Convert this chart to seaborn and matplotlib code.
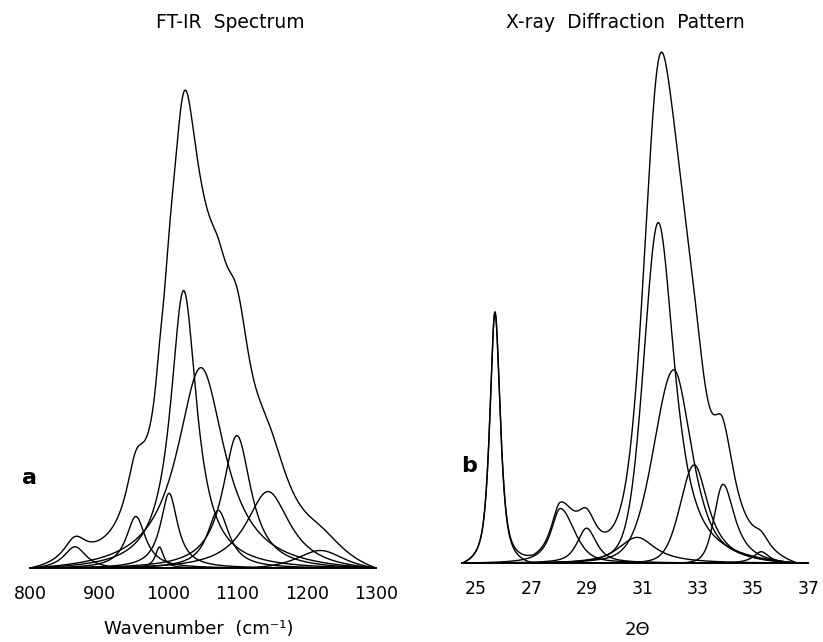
import numpy as np
import pandas as pd
import matplotlib
matplotlib.use("Agg")
import matplotlib.pyplot as plt
import seaborn as sns

# ---------------- data ----------------
# FT-IR component bands (wavenumber, cm-1): centre, height, half widths, Lorentz fraction
ir_centers = [865, 953, 987, 1001, 1022, 1047, 1072, 1099, 1144, 1220]
ir_heights = [23, 52, 21, 75, 280, 206, 58, 134, 80, 22]
ir_hw_left = [20, 17, 7, 15, 23, 42, 19, 25, 39, 45]
ir_hw_right = [20, 17, 7, 15, 23, 42, 19, 25, 39, 45]
ir_eta_left = [1.0, 1.0, 1.0, 1.0, 1.0, 1.0, 1.0, 1.0, 1.0, 1.0]
ir_eta_right = [1.0, 1.0, 1.0, 1.0, 1.0, 1.0, 1.0, 1.0, 1.0, 1.0]
ir_range = [800, 1300]
ir_ticks = [800, 900, 1000, 1100, 1200, 1300]

# XRD component reflections (2-theta, degrees)
xrd_centers = [25.68, 28.04, 28.99, 30.82, 31.58, 32.14, 32.88, 33.92, 35.30]
xrd_heights = [256, 55, 35, 26, 344, 196, 100, 81, 12]
xrd_hw_left = [0.22, 0.40, 0.40, 0.80, 0.62, 0.86, 0.60, 0.38, 0.35]
xrd_hw_right = [0.23, 0.60, 0.42, 0.80, 0.70, 0.78, 0.62, 0.52, 0.35]
xrd_eta_left = [0.75, 0.9, 0.7, 0.6, 0.3, 0.3, 0.3, 0.4, 1.0]
xrd_eta_right = [0.75, 0.5, 0.8, 1.0, 0.85, 0.7, 1.0, 1.0, 1.0]
xrd_range = [24.5, 36.6]
xrd_major = [25, 27, 29, 31, 33, 35, 37]
xrd_minor = [24.5, 26, 28, 30, 32, 34, 36]


def component(x, c, h, wl, wr, el, er, lo, hi):
    def pv(t):
        t = np.asarray(t, dtype=float)
        w = np.where(t < c, wl, wr)
        e = np.where(t < c, el, er)
        u = (t - c) / w
        g = np.exp(-np.log(2) * u ** 2)
        l = 1.0 / (1.0 + u ** 2)
        return h * (e * l + (1 - e) * g)
    y = pv(x)
    ylo, yhi = pv(lo), pv(hi)
    base = ylo + (yhi - ylo) * (x - lo) / (hi - lo)
    return np.clip(y - base, 0, None)


def build(centers, heights, wl, wr, el, er, rng, n=1400):
    x = np.linspace(rng[0], rng[1], n)
    frames = []
    total = np.zeros_like(x)
    for i, p in enumerate(zip(centers, heights, wl, wr, el, er)):
        y = component(x, *p, rng[0], rng[1])
        total += y
        frames.append(pd.DataFrame({"x": x, "y": y, "curve": f"c{i}"}))
    frames.append(pd.DataFrame({"x": x, "y": total, "curve": "sum"}))
    return pd.concat(frames, ignore_index=True)


ir_df = build(ir_centers, ir_heights, ir_hw_left, ir_hw_right,
              ir_eta_left, ir_eta_right, ir_range)
xrd_df = build(xrd_centers, xrd_heights, xrd_hw_left, xrd_hw_right,
               xrd_eta_left, xrd_eta_right, xrd_range)

# ---------------- drawing ----------------
sns.set_style("white")
plt.rcParams["font.family"] = ["DejaVu Sans"]
plt.rcParams["text.color"] = "black"
plt.rcParams["axes.labelcolor"] = "black"
plt.rcParams["xtick.color"] = "black"

W, H = 823, 642
fig = plt.figure(figsize=(W / 100, H / 100), dpi=100)
ax1 = fig.add_axes([30 / W, (H - 568) / H, 346 / W, 538 / H])
ax2 = fig.add_axes([462.3 / W, (H - 563) / H, 346 / W, 533 / H])

for ax, df in ((ax1, ir_df), (ax2, xrd_df)):
    sns.lineplot(data=df, x="x", y="y", units="curve", estimator=None,
                 color="black", linewidth=1.0, sort=False, ax=ax, legend=False)
    for s in ("top", "left", "right"):
        ax.spines[s].set_visible(False)
    ax.spines["bottom"].set_linewidth(1.4)
    ax.spines["bottom"].set_color("black")
    ax.set_yticks([])
    ax.set_ylabel("")
    ax.tick_params(axis="x", which="both", direction="out", length=6.5,
                   width=1.0, colors="black", labelsize=12.5, pad=6)

ax1.set_xlim(*ir_range)
ax1.set_ylim(0, 538)
ax1.set_xticks(ir_ticks)
ax1.set_xticklabels([str(t) for t in ir_ticks])
ax1.set_xlabel("Wavenumber  (cm⁻¹)", fontsize=13, color="black")
ax1.xaxis.set_label_coords((199 - 30) / 346, (568 - 620) / 538)

ax2.set_xlim(24.5, 37)
ax2.set_ylim(0, 533)
ax2.set_xticks(xrd_major)
ax2.set_xticklabels([str(t) for t in xrd_major])
ax2.set_xticks(xrd_minor, minor=True)
ax2.set_xlabel("2Θ", fontsize=13, color="black")
ax2.xaxis.set_label_coords((637 - 462.3) / 346, (563 - 621) / 533)

fig.text(230 / W, 1 - 23 / H, "FT-IR  Spectrum", ha="center", va="center",
         fontsize=13.5, color="black")
fig.text(625 / W, 1 - 22 / H, "X-ray  Diffraction  Pattern", ha="center", va="center",
         fontsize=13.5, color="black")
fig.text(30 / W, 1 - 478 / H, "a", ha="center", va="center", fontsize=16,
         fontweight="bold", color="black")
fig.text(469 / W, 1 - 466 / H, "b", ha="center", va="center", fontsize=16,
         fontweight="bold", color="black")

fig.savefig("out.png", dpi=100, facecolor="white")
